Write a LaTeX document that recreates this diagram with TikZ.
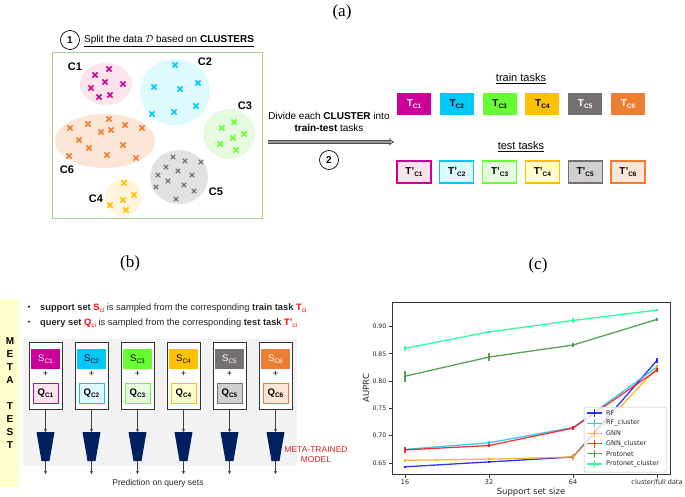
\documentclass[tikz,border=0pt]{standalone}
\usepackage{fontspec}
\setmainfont{Liberation Sans}
\newfontfamily\serifrm{Liberation Serif}
\newfontfamily\plotfont{DejaVu Sans}
\usetikzlibrary{arrows.meta}
\definecolor{c1}{HTML}{CC0099}\definecolor{c1l}{HTML}{FCE4EC}
\definecolor{c2}{HTML}{00C8FA}\definecolor{c2l}{HTML}{DDFAFF}
\definecolor{c3}{HTML}{66FF33}\definecolor{c3l}{HTML}{E6FAE0}
\definecolor{c4}{HTML}{FFC000}\definecolor{c4l}{HTML}{FFF5DC}\definecolor{c4t}{HTML}{FFFFCC}
\definecolor{c5}{HTML}{767171}\definecolor{c5l}{HTML}{E2E2E2}\definecolor{c5t}{HTML}{D0CECE}
\definecolor{c6}{HTML}{ED7D31}\definecolor{c6l}{HTML}{FBE5D6}
\definecolor{boxgreen}{HTML}{A9D18E}
\definecolor{navy}{HTML}{002060}
\definecolor{metay}{HTML}{FFFFCC}
\definecolor{bgg}{HTML}{F2F2F2}
\definecolor{mred}{HTML}{E02020}
\definecolor{prf}{HTML}{0000FF}
\definecolor{prfc}{HTML}{00BFFF}
\definecolor{pgnn}{HTML}{FFA500}
\definecolor{pgnnc}{HTML}{FF0000}
\definecolor{ppro}{HTML}{2E8B2E}
\definecolor{pproc}{HTML}{00FF7F}
\newcommand\lsub[1]{\raisebox{-0.45ex}{\fontsize{6.5}{7}\selectfont #1}}
\begin{document}
\begin{tikzpicture}[x=1pt,y=-1pt,
  plabel/.style={font=\serifrm\fontsize{17}{18}\selectfont},
  cllabel/.style={font=\bfseries\fontsize{11}{12}\selectfont},
  tbox/.style={minimum width=34pt,minimum height=22pt,inner sep=0pt,font=\bfseries\fontsize{10}{11}\selectfont},
  ubox/.style={tbox,line width=1.3pt},
  numc/.style={circle,draw,line width=0.7pt,minimum size=19pt,inner sep=0pt,font=\bfseries\fontsize{10}{11}\selectfont},
  colbox/.style={draw=black!80,line width=0.9pt,fill=white,minimum width=33pt,minimum height=67pt,inner sep=0pt},
  sbox/.style={minimum width=29pt,minimum height=20pt,inner sep=0pt,font=\fontsize{9.5}{10}\selectfont},
  qbox/.style={minimum width=25pt,minimum height=20pt,inner sep=0pt,line width=1pt,font=\bfseries\fontsize{9.5}{10}\selectfont},
  arr/.style={draw=black!75,line width=0.6pt,-{Stealth[length=3pt,width=3pt]}},
  pics/clx/.style={code={\draw[line width=1.7pt,#1] (-2.6pt,-2.6pt)--(2.6pt,2.6pt) (-2.6pt,2.6pt)--(2.6pt,-2.6pt);}},
  pics/clxs/.style={code={\draw[line width=1.1pt,#1] (-2.2pt,-2.2pt)--(2.2pt,2.2pt) (-2.2pt,2.2pt)--(2.2pt,-2.2pt);}},
  ytick/.style={font=\plotfont\fontsize{6.2}{7}\selectfont,text=black!85},
  tick/.style={font=\plotfont\fontsize{6.5}{7}\selectfont,text=black!85},
  series/.style={line width=1.3pt,opacity=0.8},
]
\useasboundingbox (0,0) rectangle (685,497);

% ---------------- panel (a)
\node[plabel] (la) at (342,12) {(a)};
\node[numc] (n1) at (70,40) {1};
\node[anchor=west,font=\fontsize{10}{11}\selectfont,inner sep=0pt] (split) at (84,41)
  {\underline{Split the data $\mathcal{D}$ based on \textbf{CLUSTERS}}};
\draw[boxgreen,line width=1pt] (52,53) rectangle (262,218);

\fill[c1l] (106,84) ellipse [x radius=26pt,y radius=21pt];
\fill[c2l] (175,92) ellipse [x radius=35pt,y radius=33pt];
\fill[c3l] (229,134) ellipse [x radius=26pt,y radius=25pt];
\fill[c6l] (105,141) ellipse [x radius=50pt,y radius=27pt];
\fill[c5l] (179,177) ellipse [x radius=29pt,y radius=27pt];
\fill[c4l] (123,198) ellipse [x radius=18pt,y radius=19pt];

\foreach \a/\b in {95/75,109/69,105/82,123/84,91/88,99/97,110/95} \pic at (\a,\b) {clx=c1};
\foreach \a/\b in {175/65,154/87,180/89,198/83,196/106,152/114,174/112} \pic at (\a,\b) {clx=c2};
\foreach \a/\b in {222/128,234/122,244/134,233/138,220/144,236/150} \pic at (\a,\b) {clx=c3};
\foreach \a/\b in {109/119,70/128,88/124,101/132,111/130,125/125,142/128,79/140,89/148,123/145,69/156,107/155,136/158} \pic at (\a,\b) {clx=c6};
\foreach \a/\b in {173/157,185/161,201/162,166/167,178/171,158/175,192/175,168/181,184/185,156/187,194/191,176/199} \pic at (\a,\b) {clxs=c5};
\foreach \a/\b in {124/183,134/195,123/200,110/205,126/210} \pic at (\a,\b) {clx=c4};

\node[cllabel] (lc1) at (75,67) {C1};
\node[cllabel] (lc2) at (205,62) {C2};
\node[cllabel] (lc3) at (245,106) {C3};
\node[cllabel] (lc6) at (67,170) {C6};
\node[cllabel] (lc5) at (216,192) {C5};
\node[cllabel] (lc4) at (96,199) {C4};

\node[align=center,font=\fontsize{10}{12}\selectfont] (divide) at (329,122)
  {Divide each \textbf{CLUSTER} into\\\textbf{train-test} tasks};
\coordinate (arS) at (268,142);
\coordinate (arE) at (394,142);
\draw[draw=black!70,double=black!40,double distance=1.6pt,line width=0.8pt,-{Implies}] (arS) -- (arE);
\node[numc] (n2) at (329,160) {2};

\node[font=\fontsize{11}{12}\selectfont] (trl) at (521,79) {\underline{train tasks}};
\node[font=\fontsize{11}{12}\selectfont] (tel) at (521,147) {\underline{test tasks}};

\node[tbox,fill=c1,text=white] (t1) at (414,104) {T\lsub{C1}};
\node[tbox,fill=c2] (t2) at (456.8,104) {T\lsub{C2}};
\node[tbox,fill=c3] (t3) at (499.6,104) {T\lsub{C3}};
\node[tbox,fill=c4] (t4) at (542.4,104) {T\lsub{C4}};
\node[tbox,fill=c5,text=white] (t5) at (585.2,104) {T\lsub{C5}};
\node[tbox,fill=c6,text=white] (t6) at (628,104) {T\lsub{C6}};

\node[ubox,draw=c1,fill=c1l] (u1) at (414,172) {T'\lsub{C1}};
\node[ubox,draw=c2,fill=c2l] (u2) at (456.8,172) {T'\lsub{C2}};
\node[ubox,draw=c3,fill=c3l] (u3) at (499.6,172) {T'\lsub{C3}};
\node[ubox,draw=c4,fill=c4t] (u4) at (542.4,172) {T'\lsub{C4}};
\node[ubox,draw=c5,fill=c5t] (u5) at (585.2,172) {T'\lsub{C5}};
\node[ubox,draw=c6,fill=c6l] (u6) at (628,172) {T'\lsub{C6}};

% ---------------- panel (b)
\node[plabel] (lb) at (130,263) {(b)};
\fill[metay] (0,299) rectangle (19,487);
\node[align=center,font=\bfseries\fontsize{10}{13}\selectfont,inner sep=0pt] (meta) at (10,393)
  {M\\E\\T\\A\\[13pt]T\\E\\S\\T};
\node[font=\fontsize{7}{8}\selectfont] (b1) at (29,308) {\textbullet};
\node[font=\fontsize{7}{8}\selectfont] (b2) at (29,323) {\textbullet};
\node[anchor=west,inner sep=0pt,font=\fontsize{9.3}{10}\selectfont,text=black!85] (l1) at (40,308)
  {\textbf{support set} {\color{red}\textbf{S}\lsub{ci}} is sampled from the corresponding \textbf{train task} {\color{red}\textbf{T}\lsub{ci}}};
\node[anchor=west,inner sep=0pt,font=\fontsize{9.3}{10}\selectfont,text=black!85] (l2) at (40,323)
  {\textbf{query set} {\color{red}\textbf{Q}\lsub{ci}} is sampled from the corresponding \textbf{test task} {\color{red}\textbf{T'}\lsub{ci}}};
\fill[bgg] (23,339) rectangle (297,466);

\foreach \i/\cs/\ct/\cq/\tc in {1/c1/c1l/c1/white,2/c2/c2l/c2/black,3/c3/c3l/c3/black,4/c4/c4t/c4/black,5/c5/c5t/c5/white,6/c6/c6l/c6/white}{
  \pgfmathsetmacro\cx{45.5+46*(\i-1)}
  \node[colbox] (col\i) at (\cx,375.5) {};
  \node[sbox,fill=\cs,text=\tc] (s\i) at (\cx,359) {S\lsub{C\i}};
  \node[font=\fontsize{9}{10}\selectfont,inner sep=0pt] (plus\i) at (\cx,374) {+};
  \node[qbox,draw=\cq,fill=\ct] (q\i) at (\cx,393) {Q\lsub{C\i}};
  \fill[navy] (\cx-9,432) -- (\cx+9,432) -- (\cx+4,461) -- (\cx-4,461) -- cycle;
  \coordinate (mt\i) at (\cx,432);
  \coordinate (mb\i) at (\cx,461);
  \coordinate (pr\i) at (\cx,474);
  \draw[arr] (col\i.south) -- (mt\i);
  \draw[arr] (mb\i) -- (pr\i);
}
\node[align=center,font=\fontsize{8.5}{10}\selectfont,text=mred,inner sep=0pt] (mtm) at (316,455) {META-TRAINED\\MODEL};
\node[font=\fontsize{8.5}{10}\selectfont,text=black!85] (pred) at (158,483) {Prediction on query sets};

% ---------------- panel (c)
\node[plabel] (lcc) at (538,265) {(c)};
\foreach \v/\t in {0.90/0.90,0.85/0.85,0.80/0.80,0.75/0.75,0.70/0.70,0.65/0.65}{
  \pgfmathsetmacro\yy{463-(\v-0.65)*546}
  \draw[black!80,line width=0.6pt] (392,\yy) -- (388.5,\yy);
  \node[ytick,anchor=east,inner sep=1pt] at (387.5,\yy) {\t};
}
\foreach \i/\t in {0/16,1/32,2/64,3/{cluster/full data}}{
  \pgfmathsetmacro\xx{405+84*\i}
  \draw[black!80,line width=0.6pt] (\xx,474) -- (\xx,477.5);
  \node[tick,anchor=north,inner sep=1pt] at (\xx,478) {\t};
}
\node[font=\plotfont\fontsize{8.5}{9}\selectfont,text=black!85] (xl) at (531,492) {Support set size};
\node[font=\plotfont\fontsize{8.5}{9}\selectfont,text=black!85,rotate=90] (yl) at (366,388) {AUPRC};

\begin{scope}[shift={(405pt,-817.9pt)},x=84pt,y=546pt]
  \draw[series,prf] (0,.643) -- (1,.652) -- (2,.661) -- (3,.838);
  \foreach \i/\v/\e in {0/.643/.002,1/.652/.002,2/.661/.003,3/.838/.005} \draw[series,prf] (\i,{\v-\e}) -- (\i,{\v+\e});
  \draw[series,prfc] (0,.675) -- (1,.687) -- (2,.715) -- (3,.826);
  \foreach \i/\v/\e in {0/.675/.003,1/.687/.003,2/.715/.003,3/.826/.004} \draw[series,prfc] (\i,{\v-\e}) -- (\i,{\v+\e});
  \draw[series,pgnn] (0,.655) -- (1,.657) -- (2,.661) -- (3,.824);
  \foreach \i/\v/\e in {0/.655/.003,1/.657/.002,2/.661/.006,3/.824/.005} \draw[series,pgnn] (\i,{\v-\e}) -- (\i,{\v+\e});
  \draw[series,pgnnc] (0,.674) -- (1,.682) -- (2,.714) -- (3,.820);
  \foreach \i/\v/\e in {0/.674/.006,1/.682/.003,2/.714/.004,3/.820/.004} \draw[series,pgnnc] (\i,{\v-\e}) -- (\i,{\v+\e});
  \draw[series,ppro] (0,.809) -- (1,.844) -- (2,.866) -- (3,.913);
  \foreach \i/\v/\e in {0/.809/.01,1/.844/.008,2/.866/.004,3/.913/.003} \draw[series,ppro] (\i,{\v-\e}) -- (\i,{\v+\e});
  \draw[series,pproc] (0,.860) -- (1,.890) -- (2,.911) -- (3,.930);
  \foreach \i/\v/\e in {0/.860/.004,1/.890/.002,2/.911/.004,3/.930/.002} \draw[series,pproc] (\i,{\v-\e}) -- (\i,{\v+\e});
\end{scope}
\draw[black!80,line width=0.7pt] (392,302) rectangle (670,474);

% legend
\draw[rounded corners=1.5pt,draw=black!25,fill=white,fill opacity=0.8,line width=0.5pt] (584,407) rectangle (666,472);
\foreach \k/\c/\t in {0/prf/RF,1/prfc/RF\_cluster,2/pgnn/GNN,3/pgnnc/GNN\_cluster,4/ppro/Protonet,5/pproc/Protonet\_cluster}{
  \pgfmathsetmacro\ly{413+10.2*\k}
  \draw[series,\c] (587,\ly) -- (602,\ly);
  \draw[series,\c] (594.5,\ly-4) -- (594.5,\ly+4);
  \node[tick,anchor=west,inner sep=0pt] at (606,\ly) {\t};
}
\end{tikzpicture}
\end{document}
